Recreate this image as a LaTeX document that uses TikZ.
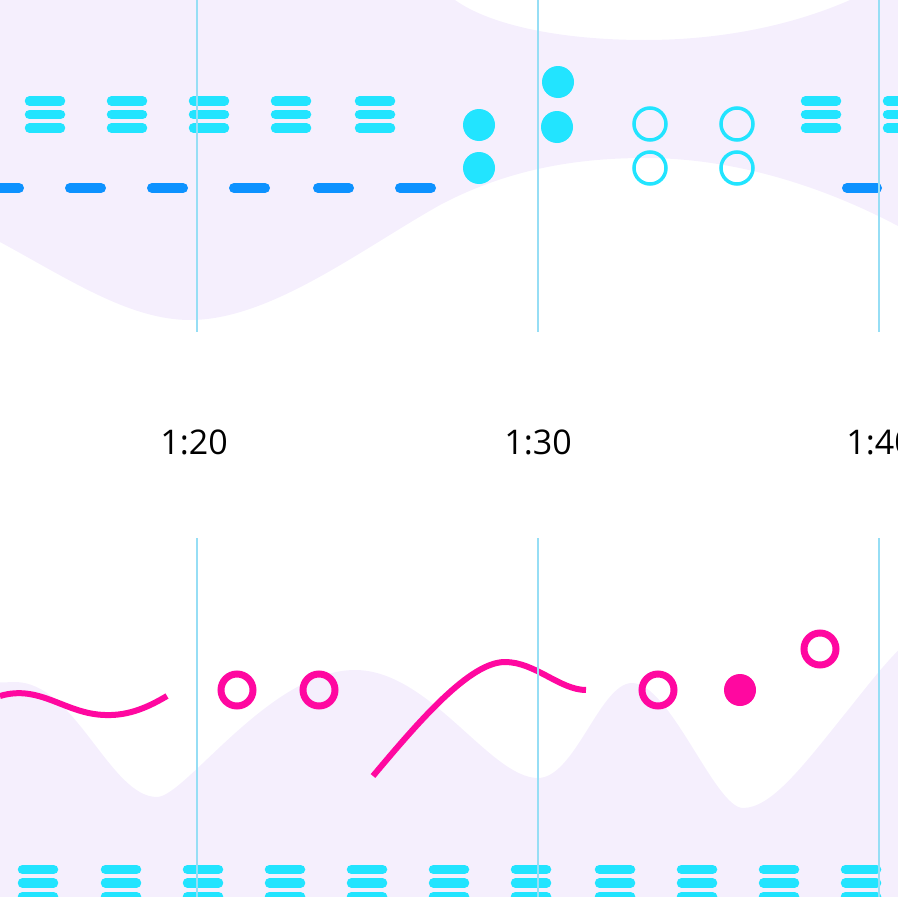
\documentclass[tikz,border=0pt]{standalone}
\usepackage{fontspec}
\setmainfont{Open Sans}
\definecolor{lav}{RGB}{245,239,253}
\definecolor{cyanc}{RGB}{34,228,255}
\definecolor{dashblue}{RGB}{13,146,255}
\definecolor{mag}{RGB}{255,8,160}
\definecolor{vline}{RGB}{150,222,245}
\begin{document}
\begin{tikzpicture}[x=1pt,y=-1pt,
  burger/.pic={\foreach \dy in {-13.5,0,13.5}
     \draw[cyanc, line width=9.5pt, line cap=round] (-15.5,\dy) -- (15.5,\dy);},
  dashseg/.style={dashblue, line width=10pt, line cap=round},
  grid/.style={vline, line width=1.5pt},
  dotfull/.style={fill=cyanc},
  dothollow/.style={draw=cyanc, line width=3.5pt},
  magline/.style={mag, line width=6pt},
  magring/.style={draw=mag, line width=7pt},
  timelabel/.style={font=\fontsize{34}{40}\selectfont, text=black, inner sep=0pt}]
\useasboundingbox (0,0) rectangle (898,897);
\clip (0,0) rectangle (898,897);
% top lavender band
\fill[lav] (0,0) -- (455,0)
  .. controls (490,25) and (560,40) .. (645,40)
  .. controls (730,40) and (800,22) .. (850,0)
  -- (898,0) -- (898,226)
  .. controls (830,190) and (740,158) .. (645,158)
  .. controls (580,158) and (510,168) .. (440,205)
  .. controls (360,250) and (270,320) .. (190,320)
  .. controls (130,320) and (70,280) .. (0,242) -- cycle;
% bottom lavender band
\fill[lav] (0,682.5) -- (15,682)
  .. controls (75,682) and (110,797) .. (157,797)
  .. controls (185,797) and (270,670) .. (355,670)
  .. controls (430,670) and (490,778) .. (538,778)
  .. controls (575,778) and (600,683) .. (632,683)
  .. controls (670,683) and (715,808) .. (743,808)
  .. controls (770,808) and (800,770) .. (840,720)
  .. controls (870,683) and (890,655) .. (920,630)
  -- (920,897) -- (0,897) -- cycle;
% top hamburgers
\foreach \x in {45,127,209,291,375,821,903}
  \pic at (\x,114.5) {burger};
% dashes
\foreach \a/\b in {-20/24,65/106,147/188,229/270,313/354,395/436,842/882}
  \draw[dashseg] (\a+5,188) -- (\b-5,188);
% cyan dots
\fill[dotfull] (479,125) circle[radius=16pt];
\fill[dotfull] (479,168) circle[radius=16pt];
\fill[dotfull] (558,82) circle[radius=16pt];
\fill[dotfull] (557,127) circle[radius=16pt];
\foreach \x in {650,737}{
  \draw[dothollow] (\x,124) circle[radius=16pt];
  \draw[dothollow] (\x,168) circle[radius=16pt];}
% bottom hamburgers
\foreach \x in {38,121,203,285,367,449,531,615,697,779,861}
  \pic at (\x,883) {burger};
% magenta items
\draw[magline] (0,696) .. controls (40,684) and (65,714) .. (105,715)
  .. controls (130,716) and (150,706) .. (167,696);
\draw[magline] (373,776) .. controls (420,720) and (470,662) .. (505,662)
  .. controls (535,662) and (560,690) .. (586,690);
\draw[magring] (237,690) circle[radius=16pt];
\draw[magring] (319,690) circle[radius=16pt];
\draw[magring] (658,690) circle[radius=16pt];
\draw[magring] (820,649) circle[radius=16pt];
\fill[mag] (740,690) circle[radius=16pt];
% vertical grid lines
\foreach \x in {197,538,879}{
  \draw[grid] (\x,0) -- (\x,332);
  \draw[grid] (\x,538) -- (\x,897);}
% labels
\node[timelabel] (t120) at (194,442) {1:20};
\node[timelabel] (t130) at (538,442) {1:30};
\node[timelabel] (t140) at (880,442) {1:40};
\end{tikzpicture}
\end{document}
